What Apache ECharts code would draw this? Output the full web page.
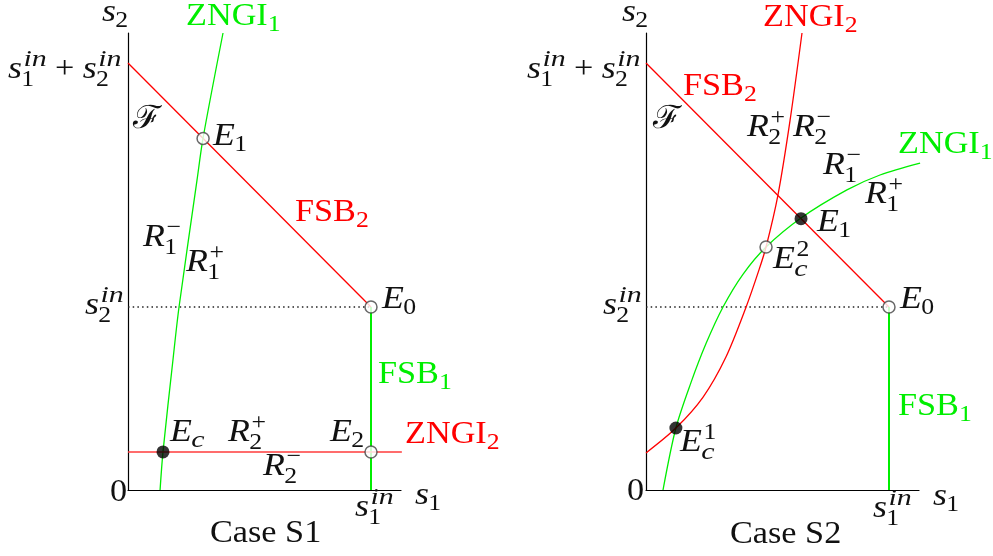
<!DOCTYPE html>
<html><head><meta charset="utf-8">
<script src="https://cdn.jsdelivr.net/npm/echarts@6/dist/echarts.min.js"></script>
<style>html,body{margin:0;padding:0;background:#fff}#c{width:993px;height:556px}</style>
</head><body><div id="c"></div>
<script>
// ---------- data (units: s1in = 1) ----------
const s1in = 1, s2in = 0.75;
const xMax = 1.1235, yMax = 1.873;
// Case S1
const leftZngi1 = [[0.132,0],[0.144,0.156],[0.185,0.533],[0.210,0.75],[0.284,1.270],[0.309,1.443],[0.391,1.873]];
const leftZngi2 = [[0,0.156],[1.127,0.156]];
const leftOpen = [[0.309,1.441],[1,0.75],[1,0.156]];   // E1, E0, E2
const leftFilled = [[0.144,0.156]];                    // Ec
// Case S2
const rightZngi1 = [[0.070,0],[0.123,0.254],[0.185,0.440],[0.247,0.600],[0.317,0.750],[0.399,0.884],[0.494,0.996],[0.638,1.115],[0.827,1.230],[0.963,1.291],[1.128,1.340]];
const rightZngi2 = [[0,0.152],[0.123,0.254],[0.235,0.381],[0.329,0.545],[0.412,0.750],[0.465,0.902],[0.494,0.996],[0.543,1.209],[0.593,1.516],[0.642,1.873]];
const rightOpen = [[0.494,0.996],[1,0.75]];             // Ec2, E0
const rightFilled = [[0.638,1.112],[0.123,0.254]];      // E1, Ec1
// text labels: [tex, left x, baseline y, mode, color]
const RED = '#ff0000', GREEN = '#00ee00', INK = '#111';
const labels = [
  ['s_2',102,23,'m'],['ZNGI_1',186,27,'r',GREEN],['s_1^{in}+s_2^{in}',8,80,'m'],['ℱ',133,130,'r'],
  ['E_1',213,147,'m'],['FSB_2',295,223,'r',RED],['R_1^−',143,248,'m'],['R_1^+',186,273,'m'],
  ['s_2^{in}',85,316,'m'],['E_0',382,310,'m'],['FSB_1',378,385,'r',GREEN],['E_c',170,443,'m'],
  ['R_2^+',228,443,'m'],['E_2',330,443,'m'],['ZNGI_2',405,445,'r',RED],['R_2^−',263,477,'m'],
  ['0',110,503,'r'],['s_1',415,506,'m'],['s_1^{in}',355,518,'m'],['Case S1',210,544,'r'],
  ['s_2',622,23,'m'],['ZNGI_2',763,28,'r',RED],['s_1^{in}+s_2^{in}',527,80,'m'],['FSB_2',683,97,'r',RED],
  ['ℱ',653,130,'r'],['R_2^+',747,138,'m'],['R_2^−',793,138,'m'],['ZNGI_1',898,155,'r',GREEN],
  ['R_1^−',823,176,'m'],['R_1^+',865,205,'m'],['E_1',817,233,'m'],['E_c^2',773,270,'m'],
  ['s_2^{in}',603,316,'m'],['E_0',900,310,'m'],['FSB_1',898,417,'r',GREEN],['E_c^1',680,453,'m'],
  ['0',627,502,'r'],['s_1',933,507,'m'],['s_1^{in}',873,519,'m'],['Case S2',730,545,'r']
];

// ---------- math-like text layout ----------
const FAM = '"Liberation Serif","DejaVu Serif",serif';
const FS = 32, SS = 23, MID = 0.32;
const SX = {mainIt:1.12, mainRm:1.07, scrIt:1.3, scrRm:1.12};
const ctx = document.createElement('canvas').getContext('2d');
function measure(t, sz, it){ ctx.font = (it?'italic ':'') + sz + 'px ' + FAM; return ctx.measureText(t).width; }
function parse(str){
  const atoms=[]; let i=0;
  const group=()=>{ if(str[i]==='{'){const j=str.indexOf('}',i); const g=str.slice(i+1,j); i=j+1; return g;} return str[i++]; };
  while(i<str.length){
    const ch=str[i];
    if(ch==='_'){i++; atoms[atoms.length-1].sub=group(); continue;}
    if(ch==='^'){i++; atoms[atoms.length-1].sup=group(); continue;}
    atoms.push({base:ch}); i++;
  }
  return atoms;
}
const isLetter = c => /[A-Za-z]/.test(c);
function txt(t,x,base,sz,it,color,sx){
  return {type:'text', x:x, y:base - MID*sz, scaleX:sx, silent:true, z:100,
    style:{text:t, fontSize:sz, fontFamily:FAM, fontStyle:it?'italic':'normal', fill:color, verticalAlign:'middle', align:'left'}};
}
function layout(tex,x0,base,mode,color){
  color = color || INK;
  const out=[]; let x=x0;
  for(const a of parse(tex)){
    const it = mode==='m' && isLetter(a.base);
    const sx = it ? SX.mainIt : SX.mainRm;
    const op = mode==='m' && a.base==='+';
    if(op) x += 0.26*FS;
    const w = measure(a.base,FS,it)*sx;
    out.push(txt(a.base,x,base,FS,it,color,sx));
    x += w;
    if(op) x += 0.26*FS;
    let ew = 0;
    if(a.sup){
      const sit = mode==='m' && /^[A-Za-z]+$/.test(a.sup);
      const ssx = sit ? SX.scrIt : SX.scrRm;
      const dx = it ? 0.05*FS : 0;
      out.push(txt(a.sup,x+dx,base-0.40*FS,SS,sit,color,ssx));
      ew = Math.max(ew, dx+measure(a.sup,SS,sit)*ssx);
    }
    if(a.sub){
      const bit = mode==='m' && /^[A-Za-z]+$/.test(a.sub);
      const ssx = bit ? SX.scrIt : SX.scrRm;
      const dx = it ? -0.02*FS : 0;
      out.push(txt(a.sub,x+dx,base+(a.sup?0.24:0.17)*FS,SS,bit,color,ssx));
      ew = Math.max(ew, dx+measure(a.sub,SS,bit)*ssx);
    }
    x += ew;
  }
  return out;
}
const graphics = [];
labels.forEach(l => graphics.push(...layout(l[0],l[1],l[2],l[3],l[4])));

// ---------- chart ----------
const grids = [{left:128, top:33, width:273, height:457},{left:646, top:33, width:273, height:457}];
const axisCommon = {min:0, axisTick:{show:false}, axisLabel:{show:false}, splitLine:{show:false},
  axisLine:{show:true, lineStyle:{color:'#000', width:1.2}}};
function line(gi,data,color,width,extra){
  return Object.assign({type:'line', xAxisIndex:gi, yAxisIndex:gi, data:data, symbol:'none', clip:false, silent:true,
    animation:false, lineStyle:{color:color, width:width}}, extra||{});
}
function pts(gi,data,filled){
  return {type:'scatter', xAxisIndex:gi, yAxisIndex:gi, data:data, symbol:'circle', symbolSize:filled?13:12, z:20, silent:true,
    itemStyle: filled ? {color:'#000'} : {color:'#fff', borderColor:'#444', borderWidth:1.5}};
}
const series = [];
[0,1].forEach(gi => {
  series.push(line(gi,[[0,s2in],[s1in,s2in]],'#222',1.5,{lineStyle:{color:'#222',width:1.5,type:[1.5,3.2]}}));
  series.push(line(gi,[[0,s1in+s2in],[s1in,s2in]],RED,1.3));
  series.push(line(gi,[[s1in,0],[s1in,s2in]],GREEN,2));
});
series.push(line(0,leftZngi1,GREEN,1.3,{smooth:0.3}));
series.push(line(0,leftZngi2,'#ff3b3b',1.5));
series.push(line(1,rightZngi1,GREEN,1.3,{smooth:0.3}));
series.push(line(1,rightZngi2,RED,1.3,{smooth:0.3}));
series.push(pts(0,leftOpen,false), pts(0,leftFilled,true), pts(1,rightOpen,false), pts(1,rightFilled,true));

const chart = echarts.init(document.getElementById('c'), null, {renderer:'canvas'});
chart.setOption({
  animation:false, backgroundColor:'#fff',
  grid: grids,
  xAxis: [0,1].map(i => Object.assign({type:'value', gridIndex:i, max:xMax}, axisCommon)),
  yAxis: [0,1].map(i => Object.assign({type:'value', gridIndex:i, max:yMax}, axisCommon)),
  series: series,
  graphic: graphics
});
</script></body></html>
